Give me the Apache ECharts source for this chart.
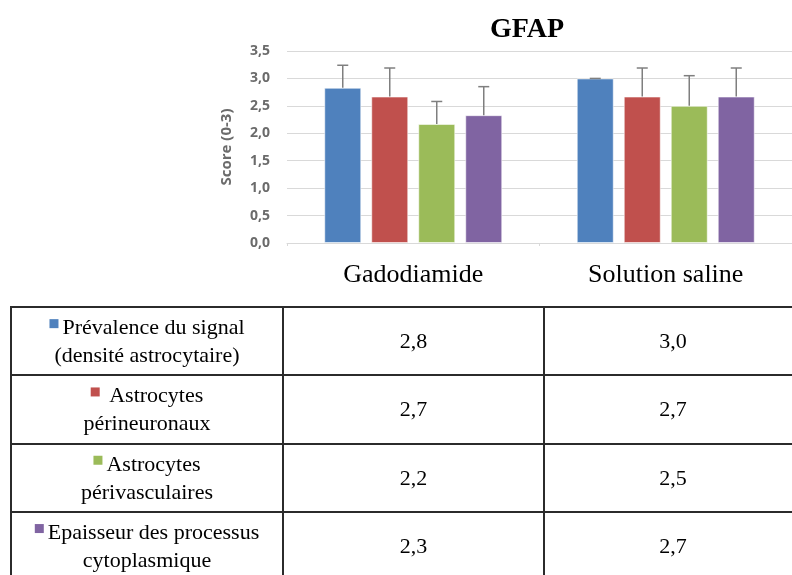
<!DOCTYPE html>
<html>
<head>
<meta charset="utf-8">
<script src="https://cdn.jsdelivr.net/npm/echarts@6/dist/echarts.min.js"></script>
<style>
  html, body { margin: 0; padding: 0; background: #ffffff; }
  #chart { width: 792px; height: 575px; }
</style>
</head>
<body>
<div id="chart"></div>
<script>
// Groups on the x axis
const categories = ['Gadodiamide', 'Solution saline'];

// Mean scores (0-3) per group
const prevalence   = [2.83, 3.00];
const perineuronal = [2.67, 2.67];
const perivascular = [2.17, 2.50];
const thickness    = [2.33, 2.67];

// Standard deviations (upper error bars)
const prevalenceErr   = [0.41, 0.00];
const perineuronalErr = [0.52, 0.52];
const perivascularErr = [0.41, 0.55];
const thicknessErr    = [0.52, 0.52];

// Row labels of the summary table (two lines each)
const rowLabels = [
  ['Prévalence du signal', '(densité astrocytaire)'],
  [' Astrocytes', 'périneuronaux'],
  ['Astrocytes', 'périvasculaires'],
  ['Epaisseur des processus', 'cytoplasmique']
];

const seriesValues = [prevalence, perineuronal, perivascular, thickness];
const seriesErrors = [prevalenceErr, perineuronalErr, perivascularErr, thicknessErr];
const seriesNames = rowLabels.map(r => (r[0] + ' ' + r[1]).trim());
const colors = ['#4F81BD', '#C0504D', '#9BBB59', '#8064A2'];

// Bar geometry
const BAR_W = 37;
const BAR_GAP = 10;
const SERIF = '"Liberation Serif", "Times New Roman", serif';
const SANS = '"Open Sans", "Liberation Sans", sans-serif';

const fmt = v => v.toFixed(1).replace('.', ',');

const chart = echarts.init(document.getElementById('chart'), null, { renderer: 'canvas' });

const series = [];
seriesValues.forEach((vals, i) => {
  series.push({
    name: seriesNames[i],
    type: 'bar',
    data: vals,
    barWidth: BAR_W,
    barGap: (BAR_GAP / BAR_W * 100) + '%',
    itemStyle: { color: colors[i], borderColor: 'rgba(255,255,255,0.55)', borderWidth: 1 },
    z: 2
  });
});
seriesValues.forEach((vals, i) => {
  const offset = (i - 1.5) * (BAR_W + BAR_GAP);
  series.push({
    type: 'custom',
    name: seriesNames[i] + ' (SD)',
    data: vals.map((v, k) => [k, v, seriesErrors[i][k]]),
    encode: { x: 0, y: 1 },
    z: 3,
    renderItem: function (params, api) {
      const base = api.coord([api.value(0), api.value(1)]);
      const top = api.coord([api.value(0), api.value(1) + api.value(2)]);
      const x = base[0] + offset;
      const style = { stroke: '#7F7F7F', lineWidth: 1.5 };
      return {
        type: 'group',
        children: [
          { type: 'line', shape: { x1: x, y1: base[1], x2: x, y2: top[1] }, style: style },
          { type: 'line', shape: { x1: x - 5.5, y1: top[1], x2: x + 5.5, y2: top[1] }, style: style }
        ]
      };
    }
  });
});

// ---- Summary table drawn underneath the chart ----
const measure = document.createElement('canvas').getContext('2d');
measure.font = '22px ' + SERIF;

const TABLE_TOP = 307;
const ROW_H = 68.3;
const COL_X = [11, 283, 544];
const COL1_CENTER = (COL_X[0] + COL_X[1]) / 2;
const VAL_CENTERS = [413.5, 673];
const lineStyle = { stroke: '#2b2b2b', lineWidth: 2 };

const graphics = [];
for (let r = 0; r < 4; r++) {
  const y = Math.round(TABLE_TOP + r * ROW_H);
  graphics.push({ type: 'line', shape: { x1: COL_X[0] - 1, y1: y, x2: 792, y2: y }, style: lineStyle });
}
COL_X.forEach(x => {
  graphics.push({ type: 'line', shape: { x1: x, y1: TABLE_TOP - 1, x2: x, y2: 575 }, style: lineStyle });
});

rowLabels.forEach((lines, r) => {
  const cy = TABLE_TOP + r * ROW_H + ROW_H / 2;
  const y1 = cy - 13;
  const y2 = cy + 15;
  const sq = 9, gap = 4;
  const w = measure.measureText(lines[0]).width;
  const x0 = COL1_CENTER - (sq + gap + w) / 2;
  graphics.push({ type: 'rect', shape: { x: x0, y: y1 - 9, width: sq, height: sq }, style: { fill: colors[r] } });
  graphics.push({
    type: 'text', x: x0 + sq + gap, y: y1,
    style: { text: lines[0], font: '22px ' + SERIF, fill: '#000', textAlign: 'left', textVerticalAlign: 'middle' }
  });
  graphics.push({
    type: 'text', x: COL1_CENTER, y: y2,
    style: { text: lines[1], font: '22px ' + SERIF, fill: '#000', textAlign: 'center', textVerticalAlign: 'middle' }
  });
  seriesValues[r].forEach((v, k) => {
    graphics.push({
      type: 'text', x: VAL_CENTERS[k], y: cy + 1,
      style: { text: fmt(v), font: '22px ' + SERIF, fill: '#000', textAlign: 'center', textVerticalAlign: 'middle' }
    });
  });
});

chart.setOption({
  animation: false,
  backgroundColor: '#ffffff',
  title: {
    text: 'GFAP',
    left: 522,
    top: 11,
    textAlign: 'center',
    textStyle: { fontFamily: SERIF, fontWeight: 'bold', fontSize: 28, color: '#000' }
  },
  grid: { left: 287, right: -10, top: 51, bottom: 332, containLabel: false },
  xAxis: {
    type: 'category',
    data: categories,
    boundaryGap: true,
    axisLine: { show: true, lineStyle: { color: '#D9D9D9', width: 1 } },
    axisTick: { show: true, length: 3, lineStyle: { color: '#D9D9D9' } },
    axisLabel: { fontFamily: SERIF, fontSize: 26, color: '#000', margin: 19 }
  },
  yAxis: {
    type: 'value',
    min: 0,
    max: 3.5,
    interval: 0.5,
    name: 'Score (0-3)',
    nameLocation: 'middle',
    nameGap: 53,
    nameRotate: 90,
    nameTextStyle: { fontFamily: SANS, fontSize: 15, fontWeight: 'bold', color: '#6B6B6B' },
    axisLine: { show: false },
    axisTick: { show: false },
    splitLine: { lineStyle: { color: '#D9D9D9', width: 1 } },
    axisLabel: {
      formatter: fmt,
      fontFamily: SANS,
      fontSize: 14,
      fontWeight: 'bold',
      color: '#6B6B6B',
      margin: 17
    }
  },
  series: series,
  graphic: graphics
});
</script>
</body>
</html>
